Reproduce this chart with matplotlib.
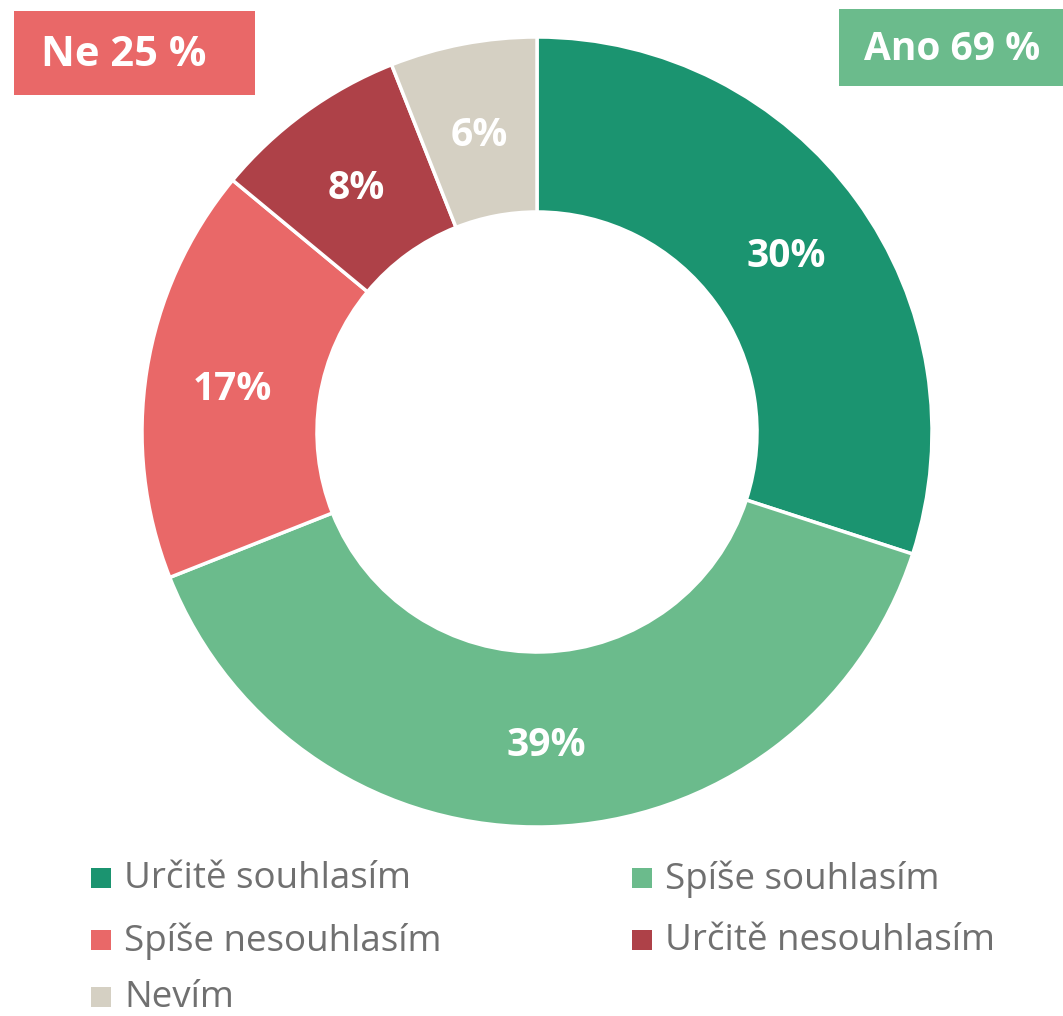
import matplotlib
matplotlib.use("Agg")
import matplotlib.pyplot as plt
from matplotlib.patches import Rectangle
import numpy as np

plt.rcParams['font.family'] = ['Open Sans', 'DejaVu Sans']

categories = ["Určitě souhlasím", "Spíše souhlasím", "Spíše nesouhlasím", "Určitě nesouhlasím", "Nevím"]
values = [30, 39, 17, 8, 6]
colors = ["#1b9470", "#6bbb8c", "#e96868", "#ae4148", "#d5d0c3"]
value_labels = ["30%", "39%", "17%", "8%", "6%"]
summary_ne = "Ne 25 %"
summary_ano = "Ano 69 %"

W, H = 1063, 1016
fig = plt.figure(figsize=(W / 100, H / 100), dpi=100)

cx, cy, R = 537, 432, 395
ax = fig.add_axes([(cx - R) / W, (H - cy - R) / H, 2 * R / W, 2 * R / H])
wedges, _ = ax.pie(values, colors=colors, startangle=90, counterclock=False, radius=1,
                   wedgeprops=dict(width=0.443, edgecolor="white", linewidth=2.5))
ang = 90.0
total = sum(values)
for v, lab in zip(values, value_labels):
    mid = ang - v / total * 360 / 2
    ang -= v / total * 360
    r = 0.78
    ax.text(r * np.cos(np.radians(mid)), r * np.sin(np.radians(mid)) - 0.015, lab,
            ha="center", va="center", color="white", fontsize=28, fontweight="bold")
ax.set_xlim(-1, 1)
ax.set_ylim(-1, 1)
ax.set_aspect("equal")
ax.axis("off")

def px_rect(x0, y0, x1, y1, color):
    fig.add_artist(Rectangle((x0 / W, 1 - y1 / H), (x1 - x0) / W, (y1 - y0) / H,
                             transform=fig.transFigure, facecolor=color, edgecolor="none"))

px_rect(14, 11, 255, 95, colors[2])
fig.text(124 / W, 1 - 55 / H, summary_ne, ha="center", va="center", color="white",
         fontsize=30, fontweight="bold")
px_rect(839, 9, 1063, 86, colors[1])
fig.text(952 / W, 1 - 49 / H, summary_ano, ha="center", va="center", color="white",
         fontsize=28, fontweight="bold")

# legend (row-major, 2 columns)
col_x = [91, 632]
row_y = [878, 940, 997]
for i, (lab, col) in enumerate(zip(categories, colors)):
    r, c = divmod(i, 2)
    x, y = col_x[c], row_y[r]
    px_rect(x, y - 10, x + 20, y + 10, col)
    fig.text((x + 33) / W, 1 - (y + 1) / H, lab, ha="left", va="center", color="#707070",
             fontsize=26.5)

fig.savefig("out.png", dpi=100)
